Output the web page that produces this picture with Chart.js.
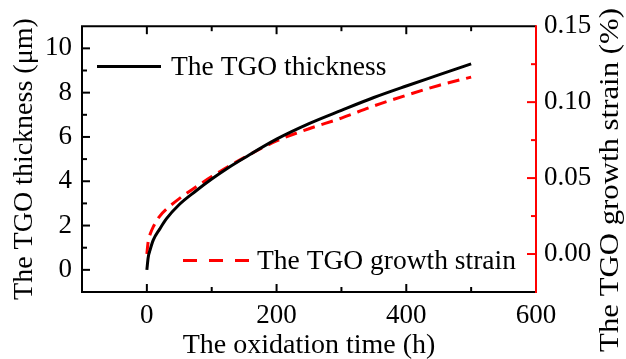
<!DOCTYPE html>
<html>
<head>
<meta charset="utf-8">
<script src="https://cdn.jsdelivr.net/npm/chart.js@4/dist/chart.umd.min.js"></script>
<style>
html,body{margin:0;padding:0;background:#fff;}
#wrap{width:626px;height:359px;}
</style>
</head>
<body>
<div id="wrap"><canvas id="c" width="626" height="359"></canvas></div>
<script>
// oxidation time (h)
const times = [0, 2, 5, 10, 20, 30, 50, 75, 100, 125, 150, 200, 250, 300, 350, 400, 450, 500];
// TGO thickness (μm), left axis
const thickness = [0, 0.55, 0.9, 1.35, 1.85, 2.3, 2.95, 3.55, 4.1, 4.6, 5.05, 5.9, 6.6, 7.2, 7.78, 8.3, 8.8, 9.3];
// TGO growth strain (%), right axis
const strain = [0, 0.008, 0.013, 0.018, 0.025, 0.0295, 0.0365, 0.044, 0.051, 0.0575, 0.0635, 0.0745, 0.0825, 0.0895, 0.0975, 0.1045, 0.111, 0.1165];

const xTickLabels = [0, 200, 400, 600];
const yTickLabels = [0, 2, 4, 6, 8, 10];
const y2TickLabels = [0, 0.05, 0.10, 0.15];

const FONT = 'Liberation Serif, "Times New Roman", serif';
const RED = '#ff0000';

function near(v, list, eps) { return list.some(a => Math.abs(a - v) < eps); }

const framePlugin = {
  id: 'frameTicks',
  afterDraw(chart) {
    const ctx = chart.ctx;
    const {left, right, top, bottom} = chart.chartArea;
    const {x, y, y2} = chart.scales;
    ctx.save();
    ctx.lineWidth = 2;
    ctx.lineCap = 'butt';
    const line = (x1, y1, x2, y2_) => { ctx.beginPath(); ctx.moveTo(x1, y1); ctx.lineTo(x2, y2_); ctx.stroke(); };
    ctx.strokeStyle = '#000';
    x.ticks.forEach(t => {
      if (t.value <= x.min || t.value >= x.max) return;
      const px = x.getPixelForValue(t.value);
      const len = near(t.value, xTickLabels, 1e-6) ? 8 : 5;
      line(px, bottom, px, bottom - len);
      line(px, top, px, top + len);
    });
    y.ticks.forEach(t => {
      if (t.value <= y.min || t.value >= y.max) return;
      const py = y.getPixelForValue(t.value);
      const len = near(t.value, yTickLabels, 1e-6) ? 8 : 5;
      line(left, py, left + len, py);
    });
    // frame
    ctx.beginPath();
    ctx.moveTo(right, top); ctx.lineTo(left, top); ctx.lineTo(left, bottom); ctx.lineTo(right, bottom);
    ctx.stroke();
    ctx.strokeStyle = RED;
    line(right, top - 1, right, bottom + 1);
    y2.ticks.forEach(t => {
      if (t.value <= y2.min + 1e-9 || t.value >= y2.max - 1e-9) return;
      const py = y2.getPixelForValue(t.value);
      const len = near(t.value, y2TickLabels, 1e-6) ? 9 : 5;
      line(right, py, right - len, py);
    });
    ctx.restore();
  }
};

const legendPlugin = {
  id: 'innerLegend',
  afterDraw(chart) {
    const ctx = chart.ctx;
    const ds = chart.data.datasets;
    const spots = [
      {x1: 97, x2: 161, ly: 66.5, tx: 171, ty: 75},
      {x1: 183, x2: 249, ly: 260.5, tx: 257, ty: 269}
    ];
    ctx.save();
    ds.forEach((d, i) => {
      const s = spots[i];
      ctx.strokeStyle = d.borderColor;
      ctx.lineWidth = 3;
      ctx.setLineDash(d.borderDash ? [14, 12] : []);
      ctx.beginPath(); ctx.moveTo(s.x1, s.ly); ctx.lineTo(s.x2, s.ly); ctx.stroke();
      ctx.setLineDash([]);
      ctx.fillStyle = '#000';
      ctx.font = '27.5px ' + FONT;
      ctx.textAlign = 'left';
      ctx.textBaseline = 'alphabetic';
      ctx.fillText(d.label, s.tx, s.ty);
    });
    // right axis title, reading bottom-to-top
    const t = chart.options.scales.y2.title;
    ctx.translate(611, 180);
    ctx.rotate(-Math.PI / 2);
    ctx.scale(1.1, 1);
    ctx.font = '28px ' + FONT;
    ctx.textAlign = 'center';
    ctx.textBaseline = 'middle';
    ctx.fillText(t.text, 0, 0);
    ctx.restore();
  }
};

new Chart(document.getElementById('c'), {
  type: 'line',
  data: {
    datasets: [
      {
        label: 'The TGO thickness',
        data: times.map((t, i) => ({x: t, y: thickness[i]})),
        borderColor: '#000',
        borderWidth: 3,
        pointRadius: 0,
        cubicInterpolationMode: 'monotone',
        yAxisID: 'y'
      },
      {
        label: 'The TGO growth strain',
        data: times.map((t, i) => ({x: t, y: strain[i]})),
        borderColor: RED,
        borderWidth: 3,
        borderDash: [12, 7],
        pointRadius: 0,
        cubicInterpolationMode: 'monotone',
        yAxisID: 'y2'
      }
    ]
  },
  options: {
    responsive: false,
    animation: false,
    layout: {padding: {top: 25, left: 0, right: 0, bottom: 0}},
    plugins: {legend: {display: false}, tooltip: {enabled: false}},
    scales: {
      x: {
        type: 'linear', min: -100, max: 600,
        grid: {display: false, drawTicks: false},
        border: {display: false},
        ticks: {
          stepSize: 100, autoSkip: false, maxRotation: 0, padding: 8,
          color: '#000', font: {family: FONT, size: 27},
          callback: v => near(v, xTickLabels, 1e-6) ? String(v) : ''
        },
        title: {display: true, text: 'The oxidation time (h)', color: '#000',
          font: {family: FONT, size: 28}, padding: {top: 0, bottom: -3}},
        afterFit: s => { s.height = 67; }
      },
      y: {
        position: 'left', min: -1, max: 11,
        grid: {display: false, drawTicks: false},
        border: {display: false},
        ticks: {
          stepSize: 1, autoSkip: false, padding: 10,
          color: '#000', font: {family: FONT, size: 27},
          callback: v => near(v, yTickLabels, 1e-6) ? String(Math.round(v)) : ''
        },
        title: {display: true, text: 'The TGO thickness (μm)', color: '#000',
          font: {family: FONT, size: 28}, padding: {top: 8, bottom: 0}},
        afterFit: s => { s.width = 82; }
      },
      y2: {
        position: 'right', min: -0.025, max: 0.15,
        grid: {display: false, drawTicks: false},
        border: {display: false},
        ticks: {
          stepSize: 0.025, autoSkip: false, padding: 8,
          color: '#000', font: {family: FONT, size: 27},
          callback: v => near(v, y2TickLabels, 1e-6) ? (Math.round(v / 0.05) * 0.05).toFixed(2) : ''
        },
        title: {display: false, text: 'The TGO growth strain (%)'},
        afterFit: s => { s.width = 90; }
      }
    }
  },
  plugins: [framePlugin, legendPlugin]
});
</script>
</body>
</html>
